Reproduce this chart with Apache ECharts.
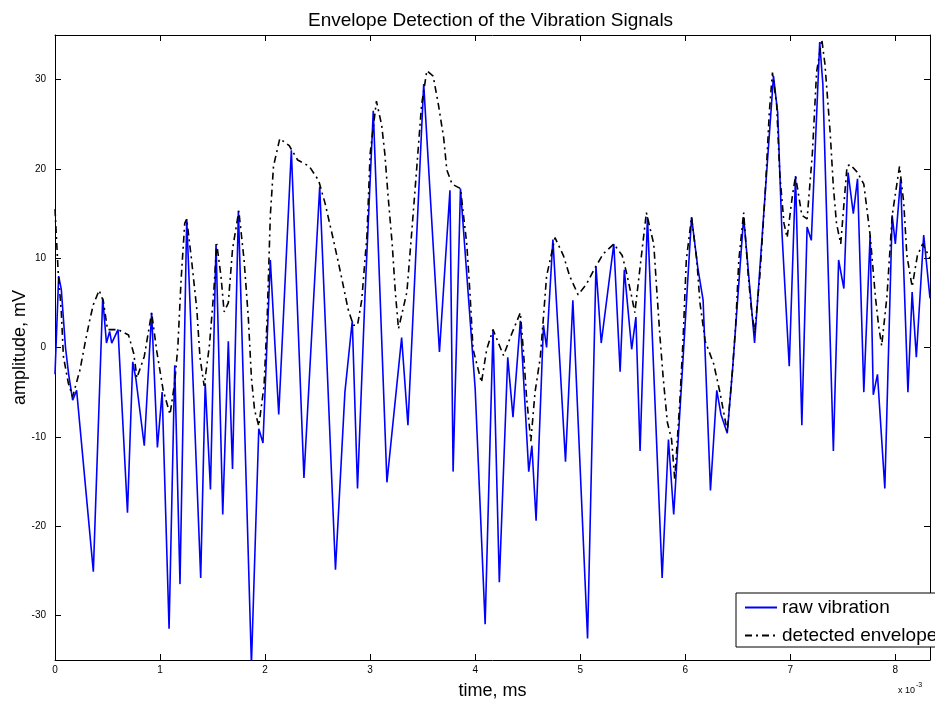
<!DOCTYPE html>
<html>
<head>
<meta charset="utf-8">
<title>Envelope Detection of the Vibration Signals</title>
<script src="https://cdn.jsdelivr.net/npm/echarts@6/dist/echarts.min.js"></script>
<style>
  html, body { margin: 0; padding: 0; background: #fff; }
  #main { width: 935px; height: 702px; }
</style>
</head>
<body>
<div id="main"></div>
<script>
// raw vibration: time (x 10^-3) and amplitude (mV), read at the turning points
var rawTime = [
  0.00, 0.035, 0.06, 0.10, 0.13, 0.168, 0.206, 0.365, 0.454, 0.49,
  0.52, 0.54, 0.60, 0.69, 0.74, 0.77, 0.85, 0.92, 0.975, 1.02,
  1.086, 1.14, 1.19, 1.254, 1.387, 1.43, 1.48, 1.533, 1.597, 1.65,
  1.69, 1.746, 1.87, 1.94, 1.98, 2.05, 2.13, 2.25, 2.37, 2.52,
  2.67, 2.76, 2.83, 2.88, 2.95, 3.03, 3.16, 3.30, 3.36, 3.51,
  3.66, 3.76, 3.79, 3.86, 4.00, 4.095, 4.17, 4.23, 4.31, 4.36,
  4.43, 4.51, 4.54, 4.58, 4.65, 4.68, 4.74, 4.86, 4.93, 5.07,
  5.15, 5.20, 5.32, 5.38, 5.42, 5.49, 5.53, 5.57, 5.64, 5.78,
  5.84, 5.89, 6.06, 6.12, 6.17, 6.24, 6.30, 6.34, 6.40, 6.45,
  6.556, 6.66, 6.84, 6.88, 6.92, 6.99, 7.05, 7.11, 7.16, 7.20,
  7.28, 7.31, 7.41, 7.46, 7.51, 7.55, 7.60, 7.64, 7.70, 7.76,
  7.79, 7.83, 7.90, 7.97, 8.00, 8.05, 8.12, 8.16, 8.20, 8.27,
  8.33
];
var rawValue = [
  -3, 8, 6.5, 0, -3, -5.9, -4.8, -25.1, 5.5, 0.5,
  1.8, 0.5, 2, -18.5, -1.6, -3.5, -11, 3.9, -11.2, -5,
  -31.5, -2, -26.5, 14.4, -25.8, -4, -15.9, 11.6, -18.7, 0.7,
  -13.6, 15.3, -35.5, -9.1, -10.7, 9.8, -7.5, 22.1, -14.6, 18,
  -24.9, -5, 3, -15.8, 5.5, 26.5, -15.1, 1.1, -8.7, 29.5,
  -0.5, 17.6, -13.9, 17.8, -4.6, -31, 2, -26.3, -1.1, -7.8,
  3, -13.9, -11, -19.4, 2.5, 0, 12.1, -12.8, 5.3, -32.6,
  9.1, 0.5, 11.6, -2.7, 8.7, -0.2, 3.4, -11.6, 14.6, -25.8,
  -10.3, -18.7, 14.6, 8.9, 5.3, -16, -4.8, -7.5, -9.6, -2.5,
  14.6, 0.5, 30.4, 26.3, 13, -2.1, 19.2, -8.7, 13.5, 12,
  34.2, 29.5, -11.6, 9.8, 6.6, 19.6, 15, 18.9, -5, 12.6,
  -5.3, -3, -15.8, 14.8, 11.6, 18.9, -5, 6.2, -1.1, 12.6,
  5.5
];

// detected envelope
var envTime = [
  0.00, 0.015, 0.03, 0.06, 0.08, 0.127, 0.168, 0.238, 0.286, 0.333,
  0.365, 0.42, 0.46, 0.50, 0.60, 0.70, 0.75, 0.78, 0.85, 0.92,
  0.97, 1.03, 1.095, 1.14, 1.17, 1.20, 1.235, 1.254, 1.30, 1.35,
  1.38, 1.42, 1.47, 1.51, 1.54, 1.58, 1.61, 1.65, 1.69, 1.75,
  1.80, 1.84, 1.87, 1.90, 1.94, 1.99, 2.02, 2.05, 2.08, 2.14,
  2.23, 2.31, 2.42, 2.51, 2.57, 2.64, 2.70, 2.75, 2.79, 2.84,
  2.88, 2.92, 2.97, 3.00, 3.06, 3.11, 3.14, 3.17, 3.21, 3.24,
  3.27, 3.35, 3.40, 3.445, 3.49, 3.54, 3.60, 3.65, 3.70, 3.73,
  3.78, 3.86, 3.92, 3.95, 3.98, 4.06, 4.11, 4.17, 4.27, 4.35,
  4.43, 4.46, 4.49, 4.53, 4.57, 4.62, 4.65, 4.68, 4.76, 4.84,
  4.90, 4.98, 5.06, 5.14, 5.22, 5.32, 5.40, 5.44, 5.49, 5.52,
  5.63, 5.70, 5.73, 5.76, 5.79, 5.83, 5.87, 5.90, 5.95, 5.98,
  6.01, 6.06, 6.11, 6.14, 6.19, 6.27, 6.33, 6.40, 6.45, 6.48,
  6.51, 6.556, 6.60, 6.63, 6.66, 6.71, 6.76, 6.80, 6.83, 6.87,
  6.90, 6.94, 6.97, 7.02, 7.05, 7.11, 7.16, 7.21, 7.25, 7.30,
  7.33, 7.38, 7.41, 7.44, 7.48, 7.54, 7.57, 7.64, 7.70, 7.76,
  7.81, 7.84, 7.87, 7.92, 7.97, 8.04, 8.08, 8.11, 8.16, 8.21,
  8.26, 8.33
];
var envValue = [
  15.5, 12, 8.5, 4, -1, -4, -5.5, -2.5, 0.5, 3.2,
  4.8, 6.4, 5.2, 2, 2, 1.4, -0.7, -3.4, -1, 3.9,
  -0.5, -4.8, -7.5, -3.9, 0.2, 7.5, 13.9, 14.4, 9.8, 4.3,
  -1.1, -4.3, 0.2, 6, 11.6, 8, 4, 5, 11, 15.3,
  9.8, 3.4, -3.4, -7, -8.8, -4.3, 3.4, 14.8, 20.3, 23.4,
  22.6, 21, 20.3, 18.7, 16.2, 12.6, 9.4, 6.6, 4.3, 2.5,
  2.5, 5.3, 12.6, 21.7, 27.6, 24.9, 21.7, 17.1, 11.6, 6.2,
  2.1, 6.2, 13.5, 20.3, 27.2, 31, 30.4, 27.2, 23.5, 19.9,
  18.3, 17.8, 11.6, 6.2, -0.2, -3.9, -0.2, 2, -0.9, 1.6,
  3.9, -0.5, -5.7, -10.5, -5, -1.1, 3.4, 8, 12.3, 10.3,
  8, 5.9, 7.1, 8.9, 10.5, 11.6, 10.3, 8.4, 5.7, 3.9,
  15.1, 11.6, 6.2, 1.1, -3.4, -8.4, -10.3, -14.8, -5.7, 1.1,
  9.8, 14.6, 9.8, 5, 0.7, -1.8, -5, -9.4, -2.5, 2.5,
  9.8, 15.1, 8, 4.3, 1.6, 8, 17.1, 26.3, 30.8, 27.2,
  19.4, 13.9, 12.3, 17, 19.2, 14.8, 14.4, 21.7, 30.8, 34.5,
  31.7, 24, 18, 13.9, 11.6, 20.3, 20.5, 19.6, 18.3, 12.6,
  5.7, 2.5, 0.2, 5.7, 14.8, 20.3, 16.2, 10.3, 6.8, 10.3,
  11.6, 10
];

// tick labels
var xTicks = [0, 1, 2, 3, 4, 5, 6, 7, 8];
var yTicks = [-30, -20, -10, 0, 10, 20, 30];

function zip(xs, ys) {
  return xs.map(function (x, i) { return [x, ys[i]]; });
}

var myChart = echarts.init(document.getElementById('main'));

var fontName = 'Liberation Sans, Arial, sans-serif';
var tickFont = { fontSize: 10, color: '#000', fontFamily: fontName };

// box axes with inward ticks on all four sides
function xAxisOf(pos, labels) {
  return {
    type: 'value',
    position: pos,
    min: 0,
    max: 8.33,
    interval: 1,
    axisLine: { onZero: false, lineStyle: { color: '#000', width: 1 } },
    axisTick: { inside: true, length: 6, lineStyle: { color: '#000' } },
    axisLabel: Object.assign({
      show: labels,
      margin: 5,
      showMaxLabel: false,
      formatter: function (v) { return xTicks.indexOf(v) >= 0 ? String(v) : ''; }
    }, tickFont),
    splitLine: { show: false }
  };
}

function yAxisOf(pos, labels) {
  return {
    type: 'value',
    position: pos,
    min: -35,
    max: 35,
    minInterval: 10,
    maxInterval: 10,
    axisLine: { onZero: false, lineStyle: { color: '#000', width: 1 } },
    axisTick: { inside: true, length: 6, lineStyle: { color: '#000' } },
    axisLabel: Object.assign({
      show: labels,
      margin: 9,
      formatter: function (v) { return yTicks.indexOf(v) >= 0 ? String(v) : ''; }
    }, tickFont),
    splitLine: { show: false }
  };
}

var xBottom = xAxisOf('bottom', true);
xBottom.name = 'time, ms';
xBottom.nameLocation = 'middle';
xBottom.nameGap = 22;
xBottom.nameTextStyle = { fontSize: 18, color: '#000', fontFamily: fontName };

var yLeft = yAxisOf('left', true);
yLeft.name = 'amplitude, mV';
yLeft.nameLocation = 'middle';
yLeft.nameGap = 26;
yLeft.nameMoveOverlap = false;
yLeft.nameTextStyle = { fontSize: 18, color: '#000', fontFamily: fontName };

var option = {
  animation: false,
  backgroundColor: '#fff',
  title: {
    text: 'Envelope Detection of the Vibration Signals',
    left: 303,
    top: 6,
    textStyle: { fontSize: 19, fontWeight: 'normal', color: '#000', fontFamily: fontName }
  },
  grid: { left: 55, right: 5, top: 35, bottom: 42, containLabel: false, outerBoundsMode: 'none' },
  legend: {
    left: 736,
    top: 593,
    orient: 'vertical',
    itemWidth: 32,
    itemHeight: 14,
    itemGap: 9,
    padding: [5, 8, 2, 8],
    backgroundColor: '#fff',
    borderColor: '#000',
    borderWidth: 1,
    borderRadius: 0,
    itemStyle: { color: 'transparent', borderWidth: 0, opacity: 0 },
    textStyle: { fontSize: 19, color: '#000', fontFamily: fontName },
    data: ['raw vibration', 'detected envelope']
  },
  xAxis: [xBottom, xAxisOf('top', false)],
  yAxis: [yLeft, yAxisOf('right', false)],
  graphic: [{
    type: 'text',
    left: 898,
    top: 682,
    style: {
      text: '{a|x 10}{b|-3}',
      rich: {
        a: { fontSize: 9, fontFamily: fontName, fill: '#000', verticalAlign: 'bottom' },
        b: { fontSize: 7, fontFamily: fontName, fill: '#000', verticalAlign: 'top', padding: [0, 0, 6, 1] }
      }
    }
  }],
  series: [
    {
      name: 'raw vibration',
      type: 'line',
      symbol: 'none',
      clip: true,
      lineStyle: { color: '#0000ff', width: 1.6 },
      itemStyle: { color: '#0000ff' },
      data: zip(rawTime, rawValue)
    },
    {
      name: 'detected envelope',
      type: 'line',
      symbol: 'none',
      clip: true,
      lineStyle: { color: '#000', width: 1.6, type: [7, 4, 2, 4] },
      itemStyle: { color: '#000' },
      data: zip(envTime, envValue)
    }
  ]
};

myChart.setOption(option);
</script>
</body>
</html>
